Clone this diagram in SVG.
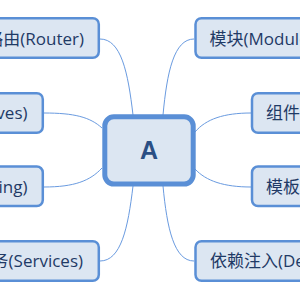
<svg xmlns="http://www.w3.org/2000/svg" width="300" height="296" viewBox="0 0 300 296">
<style>
.box{fill:#dce6f2;stroke:#5a8fd6;stroke-width:2.5}
.lbl{font-family:"Open Sans","Noto Sans CJK SC",sans-serif;font-size:17px;fill:#1f3a66}
.l{text-anchor:end}
.r{text-anchor:start}
.con path{fill:none;stroke:#6a9be0;stroke-width:1}
</style>
<rect width="300" height="296" fill="#ffffff"/>
<g id="connectors" class="con">
<path d="M100,39 C121,39 128,72 133,115"/>
<path d="M44,113 C74,113 90,117 102,128"/>
<path d="M44,187 C74,187 90,181 102,168"/>
<path d="M100,261 C121,261 128,228 133,186"/>
<path d="M194,39 C174,39 167,72 163,115"/>
<path d="M251,113 C224,113 206,119 195,132"/>
<path d="M251,187 C224,187 206,181 195,169"/>
<path d="M194,261 C174,261 167,228 163,186"/>
</g>
<g id="node-router">
<rect class="box" x="-120" y="18.2" width="218.8" height="39.6" rx="6"/>
<text class="lbl l" x="84" y="44.5">路由(Router)</text>
</g>
<g id="node-directives">
<rect class="box" x="-170" y="93.2" width="212.8" height="39.6" rx="6"/>
<text class="lbl l" x="27.5" y="119">指令(Directives)</text>
</g>
<g id="node-binding">
<rect class="box" x="-200" y="166.5" width="242.8" height="39.6" rx="6"/>
<text class="lbl l" x="27.5" y="192.5">数据绑定(Data Binding)</text>
</g>
<g id="node-services">
<rect class="box" x="-120" y="241.2" width="218.8" height="39.6" rx="6"/>
<text class="lbl l" x="83" y="267">服务(Services)</text>
</g>
<g id="node-modules">
<rect class="box" x="195.5" y="18.2" width="200" height="39.6" rx="6"/>
<text class="lbl r" x="209.5" y="44.5">模块(Modules)</text>
</g>
<g id="node-components">
<rect class="box" x="252" y="93.2" width="200" height="39.6" rx="6"/>
<text class="lbl r" x="266" y="119">组件(Components)</text>
</g>
<g id="node-templates">
<rect class="box" x="252" y="166.5" width="200" height="39.6" rx="6"/>
<text class="lbl r" x="266" y="192.5">模板(Templates)</text>
</g>
<g id="node-di">
<rect class="box" x="195.5" y="241.2" width="260" height="39.6" rx="6"/>
<text class="lbl r" x="210" y="267">依赖注入(Dependency Injection)</text>
</g>
<g id="node-center">
<rect x="104.8" y="116.8" width="88.4" height="67.2" rx="9" fill="#dce6f2" stroke="#5a8fd6" stroke-width="5"/>
<text x="149" y="158.5" text-anchor="middle" font-family="'Liberation Sans',Arial,sans-serif" font-weight="bold" font-size="25" fill="#2a4f84">A</text>
</g>
</svg>
